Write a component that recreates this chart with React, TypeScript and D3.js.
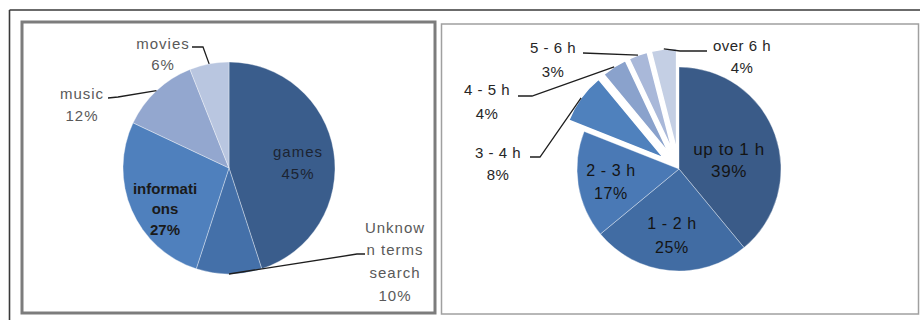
import React from "react";
import * as d3 from "d3";

// ---------- Data ----------
const leftCategories = ["games", "Unknown terms search", "informations", "music", "movies"];
const leftValues = [45, 10, 27, 12, 6];
const leftLabelText = [
  ["games", "45%"],
  ["Unknow", "n terms", "search", "10%"],
  ["informati", "ons", "27%"],
  ["music", "12%"],
  ["movies", "6%"],
];

const rightCategories = ["up to 1 h", "1 - 2 h", "2 - 3 h", "3 - 4 h", "4 - 5 h", "5 - 6 h", "over 6 h"];
const rightValues = [39, 25, 17, 8, 4, 3, 4];
const rightExploded = [false, false, false, true, true, true, true];
const rightLabelText = [
  ["up to 1 h", "39%"],
  ["1 - 2 h", "25%"],
  ["2 - 3 h", "17%"],
  ["3 - 4 h", "8%"],
  ["4 - 5 h", "4%"],
  ["5 - 6 h", "3%"],
  ["over 6 h", "4%"],
];

// ---------- Styles / layout ----------
const leftColors = ["#3a5d8c", "#4470a9", "#4f80bd", "#93a7cf", "#b9c6e0"];
const rightColors = ["#3a5b88", "#416ca3", "#4a79b5", "#4f81bd", "#8aa2cc", "#a9b8d9", "#c4cfe4"];

const LC = { x: 229, y: 168, r: 106 };
const RC = { x: 679, y: 169, r: 102, explode: 19 };

type LabelLayout = {
  dx: number; dy: number; lh: number; size: number; weight: string; color: string; spacing: number;
  leader?: [number, number][];
};

const leftLayout: LabelLayout[] = [
  { dx: 69, dy: -17, lh: 22, size: 15, weight: "normal", color: "#1c2432", spacing: 1 },
  { dx: 166, dy: 59, lh: 22.7, size: 15, weight: "normal", color: "#595959", spacing: 1, leader: [[128, 86], [136, 86]] },
  { dx: -64, dy: 20, lh: 20.5, size: 15, weight: "bold", color: "#1a1a1a", spacing: 0 },
  { dx: -147, dy: -75, lh: 22, size: 15, weight: "normal", color: "#595959", spacing: 1, leader: [[-111, -71], [-121, -70]] },
  { dx: -66, dy: -125, lh: 21, size: 15, weight: "normal", color: "#595959", spacing: 1, leader: [[-26, -121], [-37, -121]] },
];

const rightLayout: LabelLayout[] = [
  { dx: 50, dy: -20, lh: 22, size: 17, weight: "normal", color: "#141414", spacing: 0.6 },
  { dx: -7, dy: 54, lh: 24, size: 16, weight: "normal", color: "#141414", spacing: 0.6 },
  { dx: -68, dy: 1, lh: 23, size: 16, weight: "normal", color: "#141414", spacing: 0.6 },
  { dx: -181, dy: -17, lh: 22, size: 15, weight: "normal", color: "#262626", spacing: 0.5, leader: [[-139, -12], [-149, -12]] },
  { dx: -192, dy: -80, lh: 24, size: 15, weight: "normal", color: "#262626", spacing: 0.5, leader: [[-147, -73], [-161, -73]] },
  { dx: -126, dy: -122, lh: 24, size: 15, weight: "normal", color: "#262626", spacing: 0.5, leader: [[-96, -116]] },
  { dx: 63, dy: -124, lh: 22, size: 15, weight: "normal", color: "#262626", spacing: 0.5, leader: [[1, -118], [28, -118]] },
];

const FONT = "'Liberation Sans', Arial, sans-serif";

function Label({ x, y, lines, l }: { x: number; y: number; lines: string[]; l: LabelLayout }) {
  return (
    <text
      x={x}
      y={y}
      textAnchor="middle"
      fontFamily={FONT}
      fontSize={l.size}
      fontWeight={l.weight}
      fill={l.color}
      letterSpacing={l.spacing}
    >
      {lines.map((t, i) => (
        <tspan key={i} x={x} y={y + i * l.lh} dominantBaseline="central">
          {t}
        </tspan>
      ))}
    </text>
  );
}

function PieChart({
  values, colors, center, layout, labels, exploded, explode,
}: {
  values: number[]; colors: string[]; center: { x: number; y: number; r: number };
  layout: LabelLayout[]; labels: string[][]; exploded?: boolean[]; explode?: number;
}) {
  const pie = d3.pie<number>().sort(null).value((d) => d).startAngle(0).endAngle(2 * Math.PI);
  const arcs = pie(values);
  const arc = d3.arc<d3.PieArcDatum<number>>().innerRadius(0).outerRadius(center.r);

  const offsets = arcs.map((a, i) => {
    const mid = (a.startAngle + a.endAngle) / 2;
    const d = exploded && exploded[i] ? explode || 0 : 0;
    return { mid, ox: d * Math.sin(mid), oy: -d * Math.cos(mid) };
  });

  const line = d3.line();

  return (
    <g>
      <g transform={`translate(${center.x},${center.y})`}>
        {arcs.map((a, i) => (
          <path
            key={i}
            d={arc(a) || ""}
            transform={`translate(${offsets[i].ox},${offsets[i].oy})`}
            fill={colors[i]}
            stroke="#ffffff"
            strokeOpacity={exploded && exploded[i] ? 1 : 0.45}
            strokeWidth={exploded && exploded[i] ? 1.5 : 0.8}
          />
        ))}
        {arcs.map((a, i) => {
          const l = layout[i];
          if (!l.leader) return null;
          const o = offsets[i];
          const start: [number, number] = [
            o.ox + center.r * Math.sin(o.mid),
            o.oy - center.r * Math.cos(o.mid),
          ];
          return (
            <path
              key={"l" + i}
              d={line([start, ...l.leader]) || ""}
              fill="none"
              stroke="#1e1e1e"
              strokeWidth={1.3}
            />
          );
        })}
      </g>
      {arcs.map((a, i) => (
        <Label
          key={"t" + i}
          x={center.x + layout[i].dx}
          y={center.y + layout[i].dy}
          lines={labels[i]}
          l={layout[i]}
        />
      ))}
    </g>
  );
}

export default function App() {
  return (
    <svg
      width={920}
      height={320}
      style={{ position: "fixed", left: 0, top: 0, display: "block", background: "#ffffff" }}
    >
      <rect x={0} y={0} width={920} height={320} fill="#ffffff" />
      {/* outer frame */}
      <line x1={9.5} y1={10} x2={920} y2={10} stroke="#3a3a3a" strokeWidth={1.6} />
      <line x1={9.5} y1={10} x2={9.5} y2={320} stroke="#3a3a3a" strokeWidth={1.6} />
      {/* left chart box */}
      <rect x={22} y={22} width={413} height={291} fill="#ffffff" stroke="#7c7c7c" strokeWidth={3} />
      {/* right chart box */}
      <rect x={441.5} y={24} width={477} height={290} fill="#ffffff" stroke="#a0a0a0" strokeWidth={1.5} />

      <PieChart values={leftValues} colors={leftColors} center={LC} layout={leftLayout} labels={leftLabelText} />
      <PieChart
        values={rightValues}
        colors={rightColors}
        center={RC}
        layout={rightLayout}
        labels={rightLabelText}
        exploded={rightExploded}
        explode={RC.explode}
      />
      <desc>{leftCategories.join(", ") + " | " + rightCategories.join(", ")}</desc>
    </svg>
  );
}
